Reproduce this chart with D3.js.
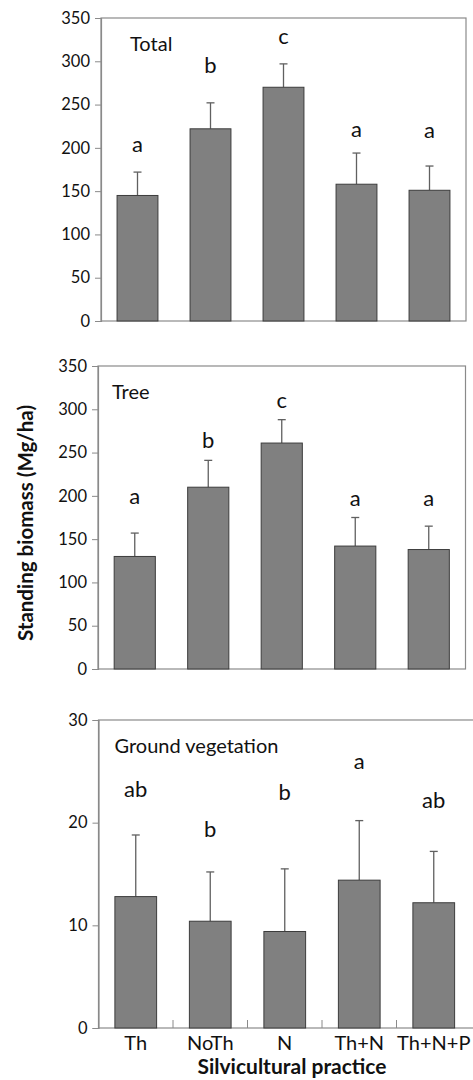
<!DOCTYPE html>
<html>
<head>
<meta charset="utf-8">
<script src="https://cdn.jsdelivr.net/npm/d3@7"></script>
<style>
  body { margin: 0; background: #fff; }
  svg { display: block; }
</style>
</head>
<body>
<div id="chart"></div>
<script>
const FONT = "Lato, 'Open Sans', sans-serif";
const COLOR_BAR = "#808080";
const COLOR_BAR_EDGE = "#3c3c3c";
const COLOR_FRAME = "#8a8a8a";
const COLOR_ERR = "#606060";
const COLOR_TEXT = "#111111";

// data
const categories = ["Th", "NoTh", "N", "Th+N", "Th+N+P"];

const totalMean = [145, 222, 270, 158, 151];
const totalErr = [27, 30, 27, 36, 28];
const totalLetters = ["a", "b", "c", "a", "a"];
const totalLetterAt = [195, 286, 320, 212, 211];

const treeMean = [130, 210, 261, 142, 138];
const treeErr = [27, 31, 27, 33, 27];
const treeLetters = ["a", "b", "c", "a", "a"];
const treeLetterAt = [191, 255, 302, 188, 188];

const groundMean = [12.8, 10.4, 9.4, 14.4, 12.2];
const groundErr = [6.0, 4.8, 6.1, 5.8, 5.0];
const groundLetters = ["ab", "b", "b", "a", "ab"];
const groundLetterAt = [22.5, 18.6, 22.2, 25.2, 21.4];

const bigTicks = [0, 50, 100, 150, 200, 250, 300, 350];
const smallTicks = [0, 10, 20, 30];

const panels = [
    { title: "Total", mean: totalMean, err: totalErr, letters: totalLetters, letterAt: totalLetterAt,
      max: 350, ticks: bigTicks, left: 101, right: 466, top: 18, bottom: 321, titleX: 29, xAxis: false },
    { title: "Tree", mean: treeMean, err: treeErr, letters: treeLetters, letterAt: treeLetterAt,
      max: 350, ticks: bigTicks, left: 98, right: 465.5, top: 366, bottom: 669, titleX: 14, xAxis: false },
    { title: "Ground vegetation", mean: groundMean, err: groundErr, letters: groundLetters, letterAt: groundLetterAt,
      max: 30, ticks: smallTicks, left: 98.5, right: 471, top: 720, bottom: 1028, titleX: 16, xAxis: true, frameRight: 476 }
];

const svg = d3.select("#chart")
    .append("svg")
    .attr("width", 473)
    .attr("height", 1080)
    .attr("font-family", FONT);

panels.forEach(p => drawPanel(p));

// axis titles
svg.append("text")
    .attr("transform", "translate(33,523) rotate(-90)")
    .attr("text-anchor", "middle")
    .attr("font-size", "20.5px")
    .attr("font-weight", "bold")
    .attr("fill", COLOR_TEXT)
    .text("Standing biomass (Mg/ha)");

svg.append("text")
    .attr("x", 292)
    .attr("y", 1074)
    .attr("text-anchor", "middle")
    .attr("font-size", "21px")
    .attr("font-weight", "bold")
    .attr("fill", COLOR_TEXT)
    .text("Silvicultural practice");

function drawPanel(p) {
    let x = d3.scaleBand()
        .domain(categories)
        .range([p.left, p.right])
        .paddingInner(0.44)
        .paddingOuter(0.22);
    let y = d3.scaleLinear()
        .domain([0, p.max])
        .range([p.bottom, p.top]);

    let g = svg.append("g");

    // frame
    g.append("rect")
        .attr("x", p.left)
        .attr("y", p.top)
        .attr("width", (p.frameRight || p.right) - p.left)
        .attr("height", p.bottom - p.top)
        .attr("fill", "none")
        .attr("stroke", COLOR_FRAME)
        .attr("stroke-width", 1.2);

    // y axis
    g.append("g")
        .attr("transform", "translate(" + p.left + ",0)")
        .call(d3.axisLeft(y).tickValues(p.ticks).tickSize(6).tickPadding(5).tickFormat(d3.format("d")))
        .call(a => {
            a.select(".domain").attr("stroke", COLOR_FRAME).attr("stroke-width", 1.2);
            a.selectAll(".tick line").attr("stroke", COLOR_FRAME);
            a.selectAll("text")
                .attr("font-size", "16.5px")
                .attr("font-family", FONT)
                .attr("fill", COLOR_TEXT);
        });

    // error bars
    let eb = g.append("g");
    categories.forEach((c, i) => {
        let cx = x(c) + x.bandwidth() / 2;
        eb.append("line")
            .attr("x1", cx).attr("x2", cx)
            .attr("y1", y(p.mean[i])).attr("y2", y(p.mean[i] + p.err[i]))
            .attr("stroke", COLOR_ERR).attr("stroke-width", 1.3);
        eb.append("line")
            .attr("x1", cx - 4).attr("x2", cx + 4)
            .attr("y1", y(p.mean[i] + p.err[i])).attr("y2", y(p.mean[i] + p.err[i]))
            .attr("stroke", COLOR_ERR).attr("stroke-width", 1.3);
    });

    // bars
    g.append("g").selectAll("rect")
        .data(categories)
        .enter().append("rect")
        .attr("x", d => x(d))
        .attr("y", (d, i) => y(p.mean[i]))
        .attr("width", x.bandwidth())
        .attr("height", (d, i) => y(0) - y(p.mean[i]))
        .attr("fill", COLOR_BAR)
        .attr("stroke", COLOR_BAR_EDGE)
        .attr("stroke-width", 1);

    // significance letters
    g.append("g").selectAll("text")
        .data(categories)
        .enter().append("text")
        .attr("x", d => x(d) + x.bandwidth() / 2)
        .attr("y", (d, i) => y(p.letterAt[i]))
        .attr("text-anchor", "middle")
        .attr("font-size", "22px")
        .attr("fill", COLOR_TEXT)
        .text((d, i) => p.letters[i]);

    // panel title
    g.append("text")
        .attr("x", p.left + p.titleX)
        .attr("y", p.top + 33)
        .attr("font-size", "20px")
        .attr("fill", COLOR_TEXT)
        .text(p.title);

    if (p.xAxis) {
        // category labels
        g.append("g")
            .attr("transform", "translate(0," + p.bottom + ")")
            .call(d3.axisBottom(x).tickSize(0).tickPadding(8))
            .call(a => {
                a.select(".domain").remove();
                a.selectAll("text")
                    .attr("font-size", "20px")
                    .attr("font-family", FONT)
                    .attr("fill", COLOR_TEXT);
            });
        // small ticks between the bars
        let bounds = d3.range(1, categories.length).map(i => x(categories[i]) - x.step() * x.paddingInner() / 2);
        g.append("g").selectAll("line")
            .data(bounds)
            .enter().append("line")
            .attr("x1", d => d).attr("x2", d => d)
            .attr("y1", p.bottom).attr("y2", p.bottom - 8)
            .attr("stroke", COLOR_FRAME);
    }
}
</script>
</body>
</html>
